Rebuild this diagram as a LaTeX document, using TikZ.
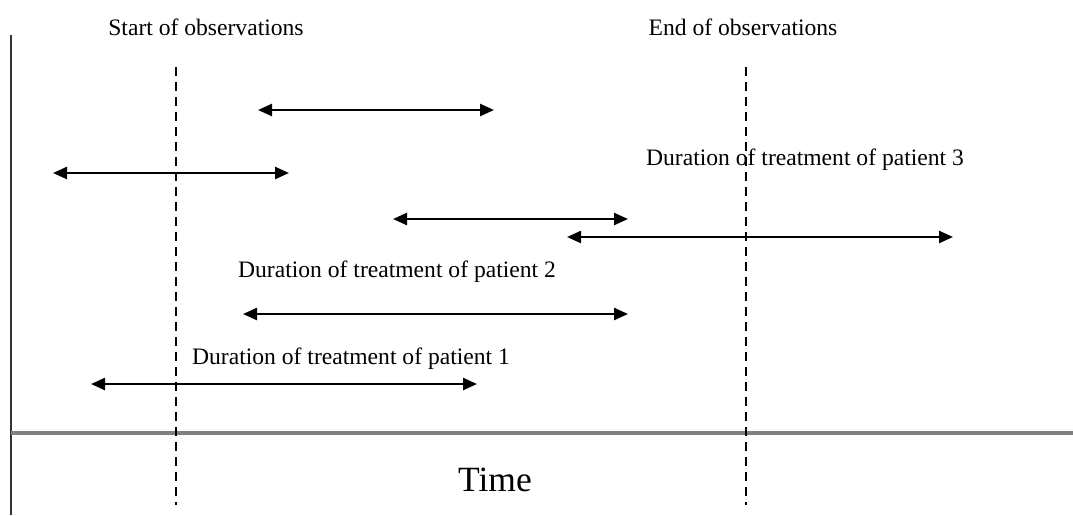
\documentclass[tikz,border=0pt]{standalone}
\usepackage{fontspec}
\setmainfont{Liberation Serif}
\usetikzlibrary{arrows.meta}
\begin{document}
\begin{tikzpicture}[x=1pt,y=-1pt,
  lbl/.style={inner sep=0pt,font=\fontsize{23.6}{26}\selectfont},
  dur/.style={line width=2.4pt,{Triangle[length=14pt,width=12pt]}-{Triangle[length=14pt,width=12pt]}},
  obs/.style={line width=1.8pt,dash pattern=on 9pt off 6pt},
  pt/.style={inner sep=0pt,minimum size=0pt}]
\useasboundingbox (0,0) rectangle (1073,515);
% axes
\coordinate (vtop) at (11,35);
\coordinate (vbot) at (11,515);
\coordinate (hl) at (11,433);
\coordinate (hr) at (1073,433);
\draw[line width=2.2pt,black!80] (vtop) -- (vbot);
\draw[line width=3.5pt,black!50] (hl) -- (hr);
% observation limits
\coordinate (s1) at (176,67);
\coordinate (s2) at (176,505);
\coordinate (e1) at (746,67);
\coordinate (e2) at (746,505);
\draw[obs] (s1) -- (s2);
\draw[obs] (e1) -- (e2);
\node[lbl] (start) at (206,27) {Start of observations};
\node[lbl] (end) at (743,27) {End of observations};
% durations
\coordinate (a1) at (258,110); \coordinate (b1) at (494,110);
\coordinate (a2) at (53,173);  \coordinate (b2) at (289,173);
\coordinate (a3) at (393,219); \coordinate (b3) at (628,219);
\coordinate (a4) at (567,237); \coordinate (b4) at (953,237);
\coordinate (a5) at (243,314); \coordinate (b5) at (628,314);
\coordinate (a6) at (91,384);  \coordinate (b6) at (477,384);
\draw[dur] (a1) -- (b1);
\draw[dur] (a2) -- (b2);
\draw[dur] (a3) -- (b3);
\draw[dur] (a4) -- (b4);
\draw[dur] (a5) -- (b5);
\draw[dur] (a6) -- (b6);
\node[lbl] (p3) at (805,160) {Duration of treatment of patient 3};
\node[lbl] (p2) at (397,272) {Duration of treatment of patient 2};
\node[lbl] (p1) at (351,359) {Duration of treatment of patient 1};
\node[inner sep=0pt,font=\fontsize{35.5}{38}\selectfont] (time) at (495,480) {Time};
\end{tikzpicture}
\end{document}
